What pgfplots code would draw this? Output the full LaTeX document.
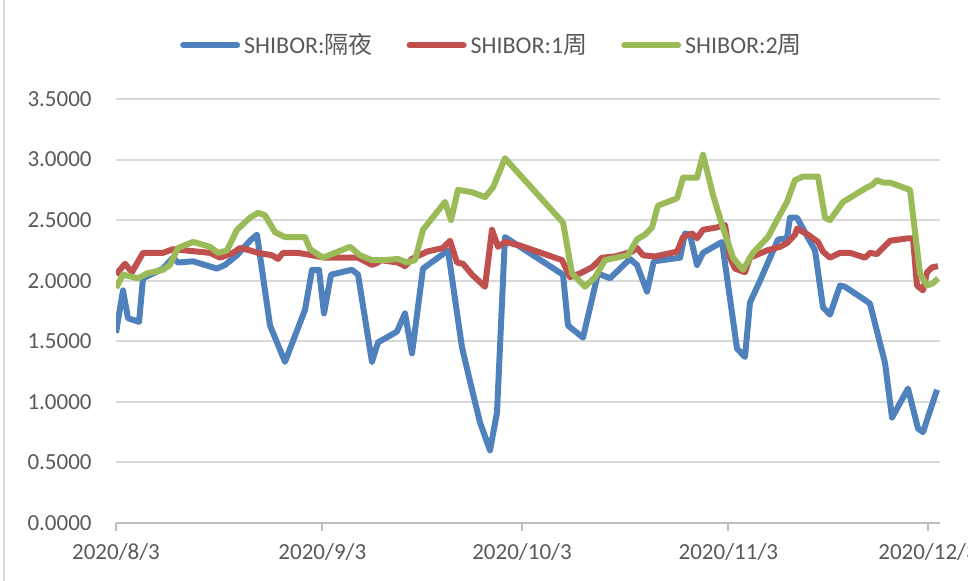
\documentclass[border=0pt]{standalone}
\usepackage{pgfplots}
\pgfplotsset{compat=1.18}
\usepackage{fontspec}
\setmainfont{Carlito}
\newfontfamily\cjk{Noto Sans CJK SC}
\definecolor{cblue}{HTML}{4F81BD}
\definecolor{cred}{HTML}{C0504D}
\definecolor{cgreen}{HTML}{9BBB59}
\definecolor{txt}{HTML}{595959}
\definecolor{gridc}{HTML}{D9D9D9}
\definecolor{axc}{HTML}{BFBFBF}
\begin{document}
\begin{tikzpicture}
\useasboundingbox (0,0) rectangle (484pt,290.5pt);
\draw[gridc, line width=1pt] (2pt,0) -- (2pt,290.5pt);
\begin{axis}[
  at={(58pt,29pt)}, anchor=south west,
  width=412pt, height=212pt, scale only axis,
  xmin=0, xmax=123.8, ymin=0, ymax=3.5,
  ytick={0,0.5,1,1.5,2,2.5,3,3.5},
  xtick={0,31,61,92,122},
  xticklabels={2020/8/3,2020/9/3,2020/10/3,2020/11/3,2020/12/3},
  axis x line*=bottom, axis y line*=left,
  x axis line style={draw=axc, line width=1pt, -},
  y axis line style={draw=none},
  ymajorgrids, grid style={draw=gridc, line width=1pt},
  tick align=outside, major tick length=4pt,
  ytick style={draw=none},
  xtick style={draw=axc, line width=1pt},
  yticklabel style={/pgf/number format/fixed, /pgf/number format/fixed zerofill, /pgf/number format/precision=4},
  /pgf/number format/assume math mode=true,
  tick label style={font=\fontsize{11.5}{13}\selectfont, text=txt},
  yticklabel style={inner sep=0pt, xshift=-8pt},
  xticklabel style={inner sep=0pt, yshift=-6pt},
  legend columns=3,
  legend style={at={(0.4575,1.127)}, anchor=center, draw=none, fill=none,
    font=\fontsize{12}{14}\selectfont, text=txt, inner sep=0pt,
    /tikz/every odd column/.append style={column sep=0pt},
    /tikz/every even column/.append style={column sep=15pt}},
  legend image code/.code={\draw[#1, line width=3pt, line cap=round] (0pt,0pt) -- (27pt,0pt);},
  every axis plot/.append style={line width=3pt, line join=round, no markers},
]
\addplot[cblue] coordinates {
(0,1.57) (1.05,1.92) (1.8,1.69) (3.46,1.66) (4.06,2.02) (7.06,2.10) (8.56,2.19) (9.31,2.15)
(11.57,2.16) (15.17,2.10) (16.38,2.13) (18.18,2.21) (20.13,2.33) (21.18,2.38) (23.14,1.63)
(25.39,1.33) (28.40,1.76) (29.45,2.09) (30.50,2.09) (31.25,1.73) (32.30,2.05) (35.46,2.09)
(36.36,2.05) (38.46,1.33) (39.36,1.49) (42.21,1.58) (43.42,1.73) (44.47,1.40) (46.12,2.10)
(49.88,2.25) (51.98,1.45) (53.49,1.10) (54.69,0.83) (56.19,0.60) (57.24,0.91) (58.44,2.36)
(60.70,2.28) (67.16,2.05) (67.91,1.63) (70.16,1.53) (72.42,2.06) (74.22,2.02) (77.22,2.18)
(78.27,2.13) (79.78,1.91) (80.8,2.16) (84.74,2.19) (85.49,2.39) (86.24,2.38) (87.29,2.13)
(88.19,2.23) (91.05,2.32) (93.30,1.44) (94.50,1.37) (95.25,1.82) (96.76,2.00) (99.46,2.34)
(100.81,2.35) (101.26,2.52) (102.31,2.52) (105.02,2.25) (106.22,1.78) (107.27,1.72)
(108.77,1.96) (109.53,1.95) (112.53,1.84) (113.28,1.81) (115.54,1.32) (116.59,0.87)
(118.99,1.11) (120.49,0.78) (121.24,0.75) (123.35,1.10)
};
\addlegendentry{SHIBOR:{\cjk 隔夜}}
\addplot[cred] coordinates {
(0,2.05) (1.35,2.14) (2.4,2.07) (4.06,2.23) (7.06,2.23) (8.56,2.26) (14.12,2.23) (15.63,2.19)
(17.58,2.23) (18.63,2.27) (20.13,2.25) (21.33,2.23) (23.44,2.21) (24.34,2.18) (25.09,2.23)
(27.34,2.23) (29.45,2.21) (31.40,2.19) (34.40,2.19) (36.36,2.19) (38.46,2.13) (39.36,2.15)
(39.66,2.17) (42.37,2.15) (43.42,2.12) (44.47,2.18) (46.72,2.24) (49.13,2.27) (50.18,2.33)
(51.23,2.15) (52.13,2.14) (53.49,2.05) (55.44,1.95) (56.49,2.42) (57.39,2.28) (58.44,2.32)
(60.70,2.29) (67.01,2.17) (68.21,2.03) (69.71,2.06) (71.51,2.11) (73.02,2.19) (74.97,2.20)
(77.52,2.24) (78.27,2.27) (79.18,2.21) (80.98,2.20) (84.29,2.24) (85.19,2.36) (86.54,2.39)
(87.29,2.35) (88.19,2.42) (90.29,2.44) (91.50,2.46) (92.25,2.19) (93.00,2.10) (94.50,2.07)
(95.25,2.19) (97.81,2.25) (99.76,2.28) (100.81,2.31) (102.01,2.38) (102.31,2.43) (103.97,2.38)
(105.47,2.32) (106.22,2.24) (107.27,2.19) (108.77,2.23) (110.28,2.23) (112.53,2.19)
(113.28,2.23) (114.33,2.22) (116.29,2.33) (118.99,2.35) (119.74,2.35) (120.34,1.96)
(121.24,1.92) (121.85,2.07) (122.60,2.11) (123.50,2.12)
};
\addlegendentry{SHIBOR:1{\cjk 周}}
\addplot[cgreen] coordinates {
(0,1.94) (1.05,2.05) (3.3,2.02) (4.66,2.06) (7.06,2.09) (8.11,2.13) (9.31,2.27) (11.57,2.32)
(14.12,2.28) (15.32,2.23) (16.68,2.25) (18.18,2.42) (20.13,2.52) (21.33,2.56) (22.39,2.54)
(23.89,2.40) (25.39,2.36) (28.40,2.36) (29.15,2.26) (31.10,2.19) (35.16,2.28) (36.66,2.21)
(38.46,2.17) (40.41,2.17) (42.37,2.18) (43.72,2.15) (44.92,2.17) (46.12,2.42) (49.43,2.65)
(50.33,2.50) (51.38,2.75) (53.49,2.73) (55.44,2.69) (56.64,2.77) (58.44,3.01) (67.16,2.48)
(68.51,2.06) (70.46,1.95) (71.97,2.03) (73.47,2.17) (76.92,2.21) (78.27,2.34) (79.48,2.38)
(80.53,2.44) (81.43,2.62) (84.29,2.68) (85.19,2.85) (87.29,2.85) (88.19,3.04) (89.69,2.71)
(91.05,2.46) (92.70,2.19) (94.20,2.09) (95.70,2.23) (97.96,2.36) (99.31,2.50) (100.81,2.65)
(102.01,2.83) (103.22,2.86) (105.47,2.86) (106.52,2.52) (107.27,2.50) (109.23,2.65)
(112.83,2.77) (113.58,2.79) (114.33,2.83) (115.23,2.81) (116.29,2.81) (119.29,2.75)
(120.79,2.06) (121.85,1.96) (122.75,1.98) (123.50,2.02)
};
\addlegendentry{SHIBOR:2{\cjk 周}}
\end{axis}
\end{tikzpicture}
\end{document}
